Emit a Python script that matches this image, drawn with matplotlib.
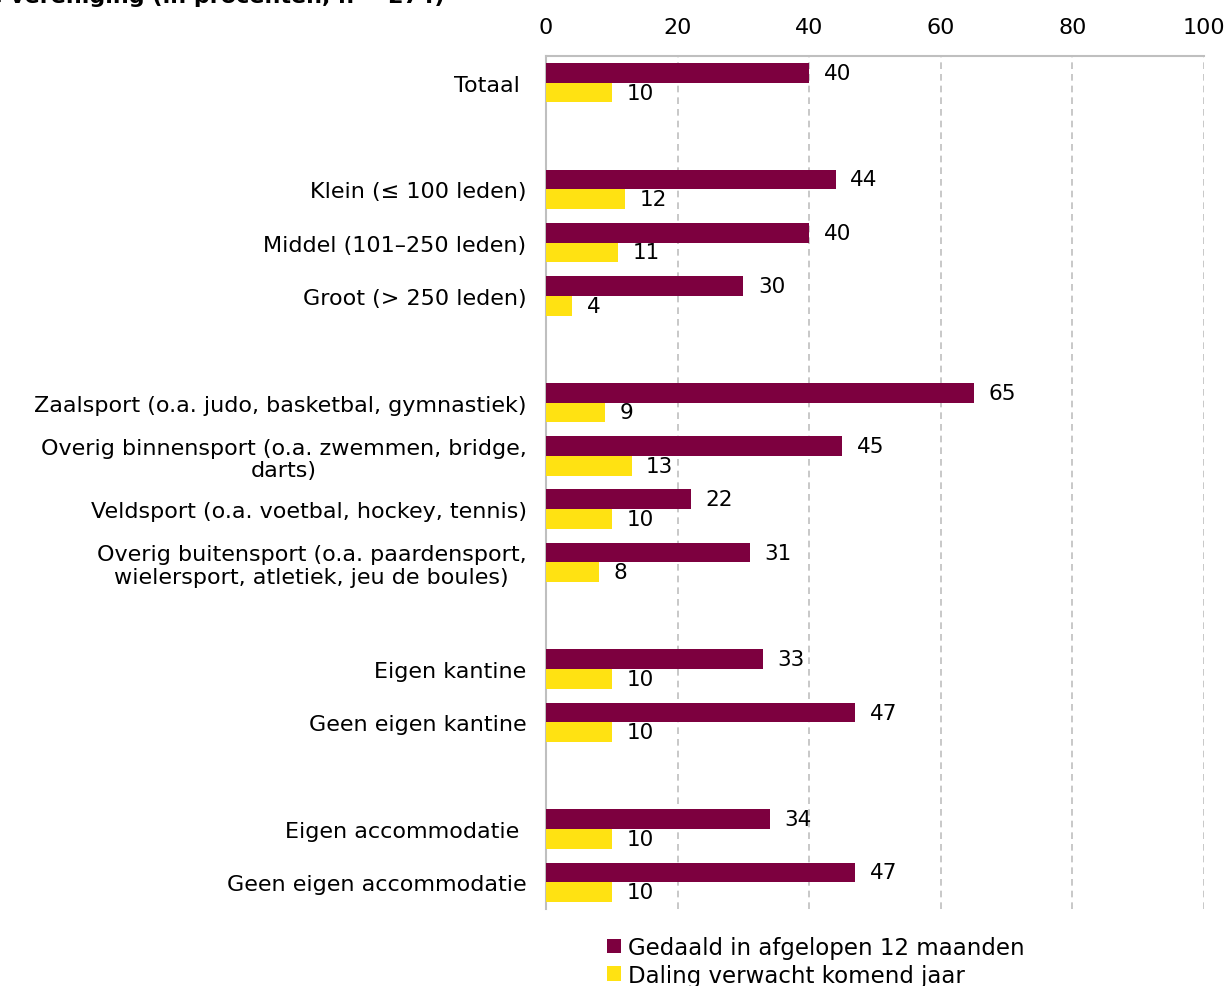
import matplotlib
matplotlib.use('Agg')
from matplotlib import pyplot as plt
import numpy as np

categories = ['Totaal ', '',
              'Klein (≤ 100 leden)', 'Middel (101–250 leden)', 'Groot (> 250 leden)', '',
              'Zaalsport (o.a. judo, basketbal, gymnastiek)',
              'Overig binnensport (o.a. zwemmen, bridge,\ndarts)',
              'Veldsport (o.a. voetbal, hockey, tennis)',
              'Overig buitensport (o.a. paardensport,\nwielersport, atletiek, jeu de boules)', '',
              'Eigen kantine', 'Geen eigen kantine', '',
              'Eigen accommodatie ', 'Geen eigen accommodatie']
gedaald = [40, None, 44, 40, 30, None, 65, 45, 22, 31, None, 33, 47, None, 34, 47]
verwacht = [10, None, 12, 11, 4, None, 9, 13, 10, 8, None, 10, 10, None, 10, 10]
series_names = ['Gedaald in afgelopen 12 maanden', 'Daling verwacht komend jaar']
colors = ['#7D003F', '#FFE212']

fig = plt.figure(figsize=(12.29, 9.87), dpi=100)
ax = fig.add_axes([0.4443, 0.078, 0.5354, 0.8642])

y = np.arange(len(categories))
h = 0.37
idx = [i for i, v in enumerate(gedaald) if v is not None]
g = [gedaald[i] for i in idx]
v = [verwacht[i] for i in idx]
yy = y[idx]
b1 = ax.barh(yy - h / 2, g, height=h, color=colors[0], label=series_names[0], zorder=3)
b2 = ax.barh(yy + h / 2, v, height=h, color=colors[1], label=series_names[1], zorder=3)
for bars in (b1, b2):
    for r in bars:
        ax.text(r.get_width() + 2.2, r.get_y() + r.get_height() / 2, '%d' % r.get_width(),
                va='center', ha='left', fontsize=15.5)

ax.set_xlim(0, 100)
ax.set_ylim(len(categories) - 0.5, -0.5)
ax.set_yticks(y)
ax.set_yticklabels(categories, fontsize=16, linespacing=1.15, multialignment='center')
ax.set_xticks(range(0, 101, 20))
ax.xaxis.tick_top()
ax.tick_params(axis='x', length=0, labelsize=16, pad=14)
ax.tick_params(axis='y', length=0, pad=14)
ax.grid(axis='x', color='#BFBFBF', linestyle=(0, (4, 3)), linewidth=1.2, zorder=0)
for s in ['right', 'bottom']:
    ax.spines[s].set_visible(False)
ax.spines['top'].set_color('#BFBFBF')
ax.spines['left'].set_color('#BFBFBF')
ax.spines['top'].set_linewidth(1.5)
ax.spines['left'].set_linewidth(1.5)

# title sits above the visible area, only its lower part shows
fig.text(445 / 1229, 1 - 3 / 987, 'ledenaantal per type vereniging (in procenten, n = 274)',
         fontsize=16, fontweight='bold', ha='right', va='baseline')

fig.legend(handles=[b1, b2], loc='upper left', bbox_to_anchor=(598 / 1229, 1 - 928 / 987),
           frameon=False, fontsize=16.5, handlelength=0.6, handleheight=0.6,
           handletextpad=0.3, labelspacing=0.2, borderaxespad=0)

fig.savefig('out.png', dpi=100)
